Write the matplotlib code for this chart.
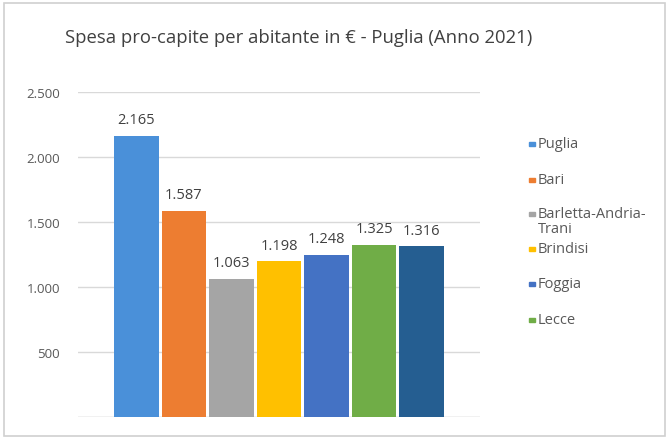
import matplotlib
matplotlib.use("Agg")
import matplotlib.pyplot as plt
from matplotlib.patches import Rectangle

title = "Spesa pro-capite per abitante in € - Puglia (Anno 2021)"
categories = ["Puglia", "Bari", "Barletta-Andria-\nTrani", "Brindisi", "Foggia", "Lecce", "Taranto"]
values = [2165, 1587, 1063, 1198, 1248, 1325, 1316]
colors = ["#4a90d9", "#ed7d31", "#a5a5a5", "#ffc000", "#4472c4", "#70ad47", "#255e91"]
yticks = [500, 1000, 1500, 2000, 2500]
ytick_labels = ["500", "1.000", "1.500", "2.000", "2.500"]
legend_shown = 6

plt.rcParams['font.family'] = ['Open Sans', 'DejaVu Sans']

W, H = 669, 439
fig = plt.figure(figsize=(W/100, H/100), dpi=100)
fig.patch.set_facecolor("white")

ax = fig.add_axes([78/W, 1-418/H, (480-78)/W, (418-93)/H])
x = list(range(len(values)))
ax.bar(x, values, width=0.93, color=colors, zorder=3)
ax.set_xlim(-1.23, 7.23)
ax.set_ylim(0, 2500)
ax.set_yticks([0] + yticks)
ax.set_yticklabels([""] + ytick_labels)
ax.yaxis.grid(True, color="#d9d9d9", linewidth=1.0, zorder=0)
ax.tick_params(axis="y", length=0, pad=13, labelsize=9.5, labelcolor="#595959")
ax.set_xticks([])
for s in ax.spines.values():
    s.set_visible(False)
ax.axhline(0, color="#d9d9d9", linewidth=1.0, zorder=2)

for xi, v in zip(x, values):
    ax.annotate(f"{v/1000:.3f}", (xi, v), xytext=(0, 6), textcoords="offset points",
                ha="center", va="bottom", fontsize=10.5, color="#404040")

fig.text(65/W, 1-38/H, title, fontsize=13.3, color="#404040", ha="left", va="center")

# legend (entries as shown in the reference)
leg_y = [145, 181, 215, 250, 285, 321]
for i in range(legend_shown):
    yy = leg_y[i]
    fig.patches.append(Rectangle((529/W, 1-(yy+2)/H), 6/W, 4/H, transform=fig.transFigure,
                                 color=colors[i], figure=fig))
    multi = "\n" in categories[i]
    fig.text(538/W, 1-(yy-8)/H if multi else 1-yy/H, categories[i], fontsize=10.5,
             color="#595959", ha="left", va="top" if multi else "center",
             linespacing=1.0)

# frame border
fig.patches.append(Rectangle((4/W, 1-437/H), (W-8)/W, (437-4)/H, transform=fig.transFigure,
                             fill=False, edgecolor="#d0d0d0", linewidth=1.2, figure=fig))

fig.savefig("out.png", dpi=100, facecolor="white")
